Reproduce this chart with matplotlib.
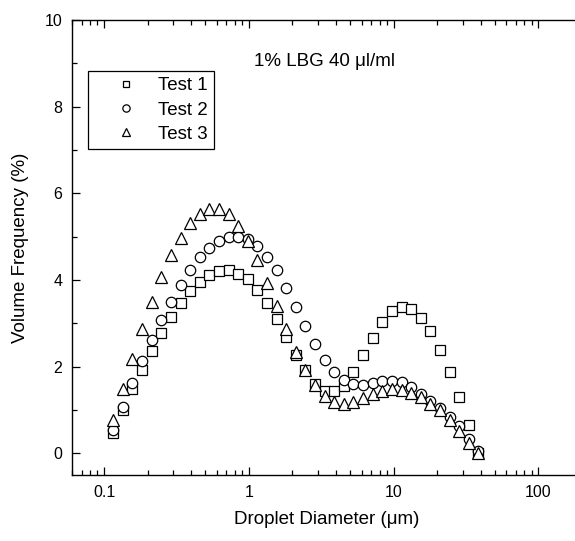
import matplotlib
matplotlib.use('Agg')
import matplotlib.pyplot as plt
from matplotlib.ticker import MultipleLocator, NullFormatter, LogLocator

plt.rcParams['font.family'] = ['Liberation Sans', 'DejaVu Sans']

# droplet size bins (um)
diameter = [0.116, 0.135, 0.157, 0.183, 0.214, 0.249, 0.290, 0.338, 0.394, 0.459,
            0.534, 0.622, 0.725, 0.845, 0.984, 1.146, 1.335, 1.556, 1.812, 2.111,
            2.460, 2.866, 3.338, 3.889, 4.531, 5.278, 6.149, 7.164, 8.346, 9.723,
            11.33, 13.20, 15.37, 17.91, 20.86, 24.31, 28.32, 32.99, 38.43]

# volume frequency (%) for each test
test1 = [0.46, 1.00, 1.48, 1.92, 2.36, 2.77, 3.15, 3.46, 3.74, 3.96,
         4.11, 4.21, 4.22, 4.15, 4.02, 3.78, 3.46, 3.09, 2.68, 2.28,
         1.92, 1.59, 1.44, 1.44, 1.55, 1.88, 2.26, 2.66, 3.02, 3.28,
         3.38, 3.34, 3.13, 2.82, 2.38, 1.88, 1.31, 0.65, 0.00]
test2 = [0.54, 1.08, 1.62, 2.13, 2.62, 3.07, 3.50, 3.88, 4.23, 4.52,
         4.74, 4.90, 5.00, 5.00, 4.94, 4.78, 4.54, 4.22, 3.81, 3.38,
         2.95, 2.53, 2.16, 1.88, 1.70, 1.60, 1.58, 1.62, 1.66, 1.68,
         1.64, 1.54, 1.38, 1.20, 1.05, 0.85, 0.62, 0.32, 0.05]
test3 = [0.77, 1.49, 2.18, 2.88, 3.50, 4.08, 4.57, 4.98, 5.31, 5.53,
         5.65, 5.65, 5.52, 5.25, 4.90, 4.46, 3.94, 3.40, 2.86, 2.34,
         1.92, 1.57, 1.32, 1.18, 1.15, 1.18, 1.27, 1.36, 1.44, 1.48,
         1.47, 1.40, 1.31, 1.14, 1.00, 0.77, 0.51, 0.25, 0.00]

labels = ['Test 1', 'Test 2', 'Test 3']
markers = ['s', 'o', '^']
sizes = [7, 7.5, 8.5]

fig = plt.figure(figsize=(5.75, 5.41), dpi=100)
# right edge of the frame falls just outside the picture, like the original
ax = fig.add_axes([72 / 575, 66 / 541, 510 / 575, 455 / 541])

for y, lab, m, s in zip([test1, test2, test3], labels, markers, sizes):
    ax.plot(diameter, y, linestyle='none', marker=m, markersize=s,
            markerfacecolor='white', markeredgecolor='black',
            markeredgewidth=0.9, label=lab)

ax.set_xscale('log')
ax.set_xlim(0.06, 200)
ax.set_ylim(-0.5, 10)

ax.set_xticks([0.1, 1, 10, 100])
ax.set_xticklabels(['0.1', '1', '10', '100'])
ax.xaxis.set_minor_locator(LogLocator(base=10, subs=range(2, 10)))
ax.xaxis.set_minor_formatter(NullFormatter())
ax.yaxis.set_major_locator(MultipleLocator(2))
ax.yaxis.set_minor_locator(MultipleLocator(1))

ax.tick_params(which='both', direction='in', top=True, right=False,
               width=0.9, labelsize=11.5, pad=7)
ax.tick_params(which='major', length=6)
ax.tick_params(which='minor', length=3.4)
for sp in ax.spines.values():
    sp.set_linewidth(1.0)

ax.set_xlabel('Droplet Diameter (\u03bcm)', fontsize=13.5, labelpad=8)
ax.set_ylabel('Volume Frequency (%)', fontsize=13.5, labelpad=11)

ax.text(0.496, 0.898, '1% LBG 40 \u03bcl/ml', transform=ax.transAxes,
        ha='center', va='baseline', fontsize=13.5)

leg = ax.legend(loc='upper left', bbox_to_anchor=(88 / 575, 1 - 71 / 541),
                bbox_transform=fig.transFigure, fontsize=13.5, markerscale=0.7,
                numpoints=1, fancybox=False, framealpha=1, edgecolor='black',
                borderpad=0.32, handlelength=3.46, handletextpad=-0.06,
                labelspacing=0.39, borderaxespad=0)
leg.get_frame().set_linewidth(0.9)

fig.savefig('out.png', dpi=100)
